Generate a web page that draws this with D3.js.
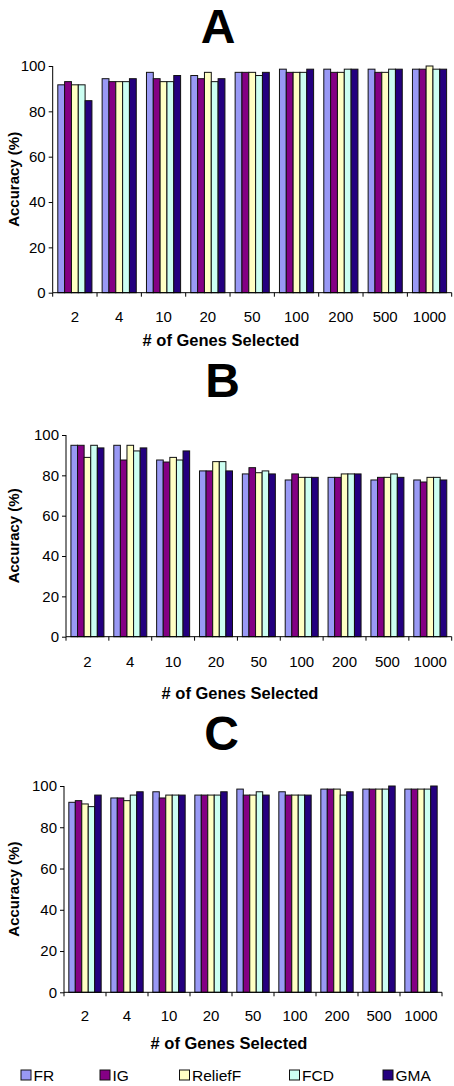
<!DOCTYPE html>
<html><head><meta charset="utf-8">
<script src="https://cdn.jsdelivr.net/npm/d3@7"></script>
<style>body{margin:0;background:#fff}svg{display:block}text{font-family:Arial,"Liberation Sans",sans-serif}</style>
</head><body><svg id="c" width="454" height="1086"></svg>
<script>
const categories = ["2","4","10","20","50","100","200","500","1000"];
const seriesNames = ["FR","IG","ReliefF","FCD","GMA"];
const seriesColors = ["#9999F5","#840084","#FFFFC4","#CCFFF2","#24007F"];
const yTicks = [0,20,40,60,80,100];

const A_FR      = [91.7,94.4,97.2,95.8,97.2,98.6,98.6,98.6,98.6];
const A_IG      = [93.1,93.1,94.4,94.4,97.2,97.2,97.2,97.2,98.6];
const A_ReliefF = [91.7,93.1,93.1,97.2,97.2,97.2,97.2,97.2,100];
const A_FCD     = [91.7,93.1,93.1,93.1,95.8,97.2,98.6,98.6,98.6];
const A_GMA     = [84.7,94.4,95.8,94.4,97.2,98.6,98.6,98.6,98.6];

const B_FR      = [94.9,94.9,87.6,82.2,80.7,77.7,79.0,77.7,77.7];
const B_IG      = [94.9,87.6,86.6,82.2,83.8,80.7,79.0,79.0,76.7];
const B_ReliefF = [88.9,94.9,88.9,86.8,81.3,79.0,80.7,79.0,79.0];
const B_FCD     = [94.9,92.1,87.6,86.8,82.2,79.0,80.7,80.7,79.0];
const B_GMA     = [93.6,93.6,92.1,82.2,80.7,79.0,80.7,79.0,77.7];

const C_FR      = [92.1,94.2,97.2,95.6,98.5,97.2,98.5,98.5,98.5];
const C_IG      = [92.9,94.2,94.2,95.6,95.6,95.6,98.5,98.5,98.5];
const C_ReliefF = [91.3,92.9,95.6,95.6,95.6,95.6,98.5,98.5,98.5];
const C_FCD     = [90.0,95.6,95.6,95.6,97.2,95.6,95.6,98.5,98.5];
const C_GMA     = [95.6,97.2,95.6,97.2,95.6,95.6,97.2,100,100];

const svg = d3.select("#c");

function panel(opts){
  const {letter, letterX, letterY, x0, x1, y0, y100, series, xlabY, titleX, titleY} = opts;
  const g = svg.append("g");
  g.append("text").attr("x",letterX).attr("y",letterY).attr("text-anchor","middle")
    .attr("font-size",48).attr("font-weight","bold").text(letter);
  const x = d3.scaleBand().domain(categories).range([x0,x1]).padding(0);
  const bw = x.bandwidth();
  const xs = d3.scaleBand().domain(seriesNames).range([bw*0.115, bw*0.885]).padding(0);
  const y = d3.scaleLinear().domain([0,100]).range([y0,y100]);

  // bars
  seriesNames.forEach((s,si)=>{
    g.append("g").selectAll("rect").data(series[si]).join("rect")
      .attr("x",(d,i)=>x(categories[i])+xs(s))
      .attr("y",d=>y(d))
      .attr("width",xs.bandwidth())
      .attr("height",d=>y(0)-y(d))
      .attr("fill",seriesColors[si])
      .attr("stroke","#111").attr("stroke-width",1);
  });

  // y axis
  const ya = g.append("g").attr("transform",`translate(${x0},0)`)
    .call(d3.axisLeft(y).tickValues(yTicks).tickSize(4).tickPadding(3));
  ya.select(".domain").attr("stroke","#000").attr("d",`M0,${y0}V${y100}`);
  ya.selectAll("text").attr("font-size",15).attr("font-family","Arial, 'Liberation Sans', sans-serif").attr("fill","#000");
  ya.selectAll("line").attr("stroke","#000");

  // x axis
  const xa = g.append("g").attr("transform",`translate(0,${y0})`);
  xa.append("line").attr("x1",x0).attr("x2",x1).attr("y1",0).attr("y2",0).attr("stroke","#000");
  const bounds = categories.map(c=>x(c)).concat([x1]);
  xa.selectAll("line.t").data(bounds).join("line").attr("class","t")
    .attr("x1",d=>d).attr("x2",d=>d).attr("y1",0).attr("y2",4).attr("stroke","#000");
  g.selectAll("text.xl").data(categories).join("text").attr("class","xl")
    .attr("x",d=>x(d)+bw/2).attr("y",xlabY).attr("text-anchor","middle")
    .attr("dominant-baseline","central").attr("font-size",15).text(d=>d);
  g.append("text").attr("x",titleX).attr("y",titleY).attr("text-anchor","middle")
    .attr("dominant-baseline","central").attr("font-size",16.5).attr("font-weight","bold")
    .text("# of Genes Selected");
  g.append("text").attr("transform",`translate(13,${(y0+y100)/2}) rotate(-90)`)
    .attr("text-anchor","middle").attr("dominant-baseline","central")
    .attr("font-size",15).attr("font-weight","bold").text("Accuracy (%)");
}

panel({letter:"A", letterX:218, letterY:43, x0:52.7, x1:451.7, y0:292.7, y100:66,
  series:[A_FR,A_IG,A_ReliefF,A_FCD,A_GMA], xlabY:316.5, titleX:221, titleY:340});
panel({letter:"B", letterX:222.5, letterY:397, x0:66, x1:451.7, y0:636.7, y100:435,
  series:[B_FR,B_IG,B_ReliefF,B_FCD,B_GMA], xlabY:661, titleX:240, titleY:693});
panel({letter:"C", letterX:221.7, letterY:750, x0:64, x1:442, y0:992.3, y100:786,
  series:[C_FR,C_IG,C_ReliefF,C_FCD,C_GMA], xlabY:1015, titleX:229, titleY:1043});

// legend
const legX = [21,100,179.5,289.5,383];
const leg = svg.append("g").selectAll("g").data(seriesNames).join("g")
  .attr("transform",(d,i)=>`translate(${legX[i]},1070)`);
leg.append("rect").attr("width",10).attr("height",10)
  .attr("fill",(d,i)=>seriesColors[i]).attr("stroke","#111").attr("stroke-width",1);
leg.append("text").attr("x",12.5).attr("y",5).attr("dominant-baseline","central")
  .attr("font-size",15.5).text(d=>d);
</script></body></html>
